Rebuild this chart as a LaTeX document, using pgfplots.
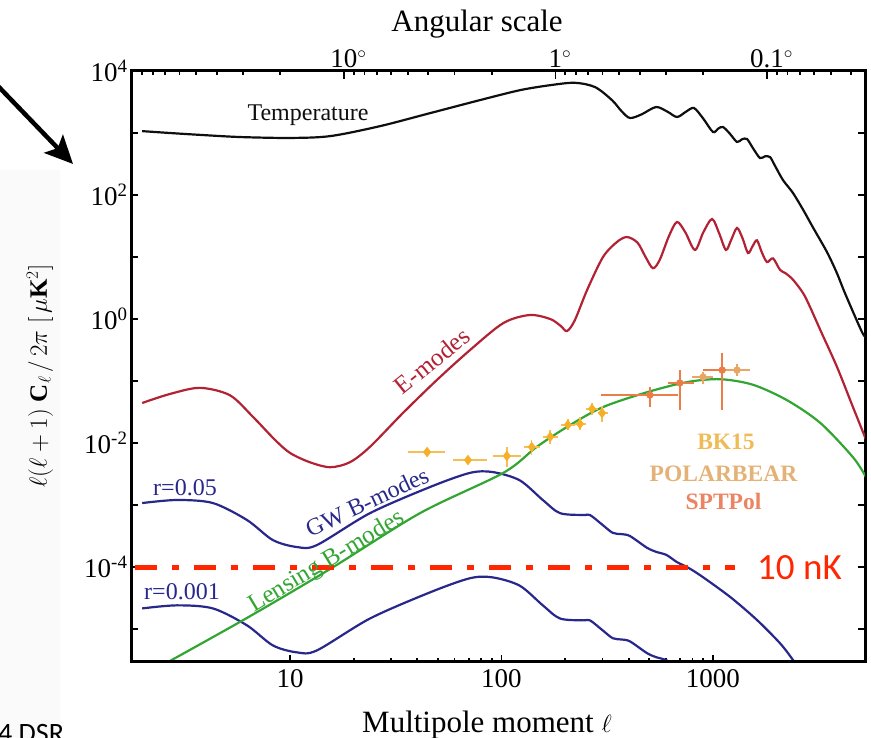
\documentclass[border=0pt]{standalone}
\usepackage{pgfplots}
\pgfplotsset{compat=1.18}
\usepackage{fontspec}
\setmainfont{Liberation Serif}
\newfontfamily\calibri{Carlito}
\usetikzlibrary{arrows.meta}
\definecolor{tempc}{RGB}{15,15,15}
\definecolor{ered}{RGB}{178,34,52}
\definecolor{gwblue}{RGB}{40,40,140}
\definecolor{lgreen}{RGB}{50,165,50}
\definecolor{nkred}{RGB}{255,38,0}
\definecolor{bkc}{RGB}{245,175,40}
\definecolor{pbc}{RGB}{232,165,100}
\definecolor{sptc}{RGB}{235,125,70}
\definecolor{bktxt}{RGB}{238,188,85}
\definecolor{pbtxt}{RGB}{228,178,118}
\definecolor{spttxt}{RGB}{235,132,98}

\pgfplotstableread{
l d lm lp dm dp
44.5 0.00716 8.4 9.6 0.0008 0.0009
69.4 0.00532 10.5 15.7 0.0006 0.0007
106 0.00617 15 17 0.00207 0.00243
139 0.0086 11 13 0.0021 0.0026
170 0.0126 13 15 0.0028 0.0034
206 0.0196 14 16 0.0036 0.0044
235 0.0204 13 15 0.0044 0.0056
268 0.0355 16 17 0.0075 0.0085
299 0.0305 14 21 0.0085 0.0095
}\bkdata
\pgfplotstableread{
l d lm lp dm dp
503 0.0594 206 180 0.0214 0.0206
697 0.093 87 113 0.059 0.058
1105 0.150 205 195 0.116 0.133
}\sptdata
\pgfplotstableread{
l d lm lp dm dp
897 0.116 97 103 0.026 0.024
1299 0.150 149 201 0.03 0.04
}\pbdata

\begin{document}
\begin{tikzpicture}[x=1pt,y=1pt]
\useasboundingbox (0,0) rectangle (871,738);
\fill[gray!4] (0,0) rectangle (60,568);
\draw[line width=4.5pt, -{Stealth[length=28pt, width=26pt, inset=6pt]}] (-4,654) -- (73,574);
\node[anchor=base west, font=\calibri\fontsize{28}{28}\selectfont, inner sep=0] at (-2,-5) {4 DSR};

\begin{axis}[
  at={(131pt,76pt)}, anchor=south west,
  scale only axis, width=734pt, height=591pt,
  xmode=log, ymode=log,
  xmin=1.771, xmax=5233, ymin=2.94e-6, ymax=1e4,
  xtick={10,100,1000}, xticklabels={10,100,1000},
  xtick pos=left,
  ytick={1e-5,1e-4,1e-3,1e-2,1e-1,1,1e1,1e2,1e3,1e4},
  yticklabels={,10\textsuperscript{-4},,10\textsuperscript{-2},,10\textsuperscript{0},,10\textsuperscript{2},,10\textsuperscript{4}},
  yminorticks=false,
  axis line style={line width=3pt},
  tick style={line width=1.8pt, black},
  major tick length=7pt, minor tick length=4pt,
  tick label style={font=\fontsize{27}{27}\selectfont},
  xticklabel style={yshift=-4pt},
  xlabel={Multipole moment $\ell$},
  xlabel style={font=\fontsize{31}{31}\selectfont, at={(axis description cs:0.485,0)}, anchor=base, yshift=-71pt},
  ylabel={$\ell(\ell+1)\;\mathbf{C}_{\ell}\,/\,2\pi\;[\,\mu\mathbf{K}^{2}]$},
  ylabel style={font=\fontsize{25}{25}\selectfont, at={(axis description cs:-0.124,0.484)}, anchor=center},
  every axis plot/.append style={line width=2.2pt},
]
% Temperature
\addplot[tempc, smooth] coordinates {
(2,1072) (2.7,1000) (3.75,933) (5.8,861) (10,832) (15.5,891) (26.6,1288) (45.9,2089) (79,3388) (122,4898) (169,5888) (222,6457) (277,5495) (333,3388) (370,2239) (405,1746) (460,2000) (538,2624) (610,2200) (676,1811) (745,2200) (813,2529) (900,1700) (1000,1038) (1060,1180) (1115,1250) (1200,980) (1299,716) (1370,790) (1448,800) (1550,560) (1668,395) (1760,420) (1860,410) (1960,300) (2143,174) (2388,108) (2670,57.5) (2970,30) (3460,12.0) (3855,5.5) (4210,2.6) (5060,0.62) (5300,0.51)
};
% E-modes
\addplot[ered, smooth] coordinates {
(2,0.0442) (2.7,0.0617) (3.75,0.0776) (5.2,0.0589) (6.69,0.0263) (8.5,0.0112) (10,0.00692) (12.4,0.0049) (15.5,0.00407) (19.2,0.0049) (23.9,0.0087) (34.2,0.0305) (49.5,0.104) (71,0.316) (102,0.86) (136,1.16) (170,1.0) (190,0.78) (204,0.64) (222,0.95) (254,2.94) (302,10) (351,17.4) (392,21) (440,17) (480,10) (520,6.6) (560,9) (620,22) (676,36.7) (740,25) (822,13.0) (900,25) (990,41) (1070,24) (1151,13.0) (1220,19) (1299,29.4) (1380,20) (1464,11.6) (1540,15) (1614,18.6) (1700,12) (1800,8.3) (1922,9.5) (2075,6.2) (2200,5.5) (2390,4.3) (2670,2.6) (2880,1.55) (3220,0.66) (3855,0.17) (4590,0.038) (5300,0.0112)
};
% GW B-modes r=0.05
\addplot[gwblue, smooth] coordinates {
(2,0.001076) (2.92,0.001205) (4.32,0.001076) (6.26,0.000573) (8.3,0.000272) (10.8,0.00021) (13.4,0.000226) (23.9,0.00074) (45.9,0.00195) (71,0.0033) (91,0.0034) (122,0.0025) (157,0.0012) (189,0.00074) (243,0.00069) (262,0.00069) (300,0.00048) (336,0.000355) (370,0.000339) (405,0.000316) (488,0.000204) (543,0.000174) (600,0.000158) (676,0.00012) (753,0.0001) (868,7.41e-5) (1203,3.31e-5) (1614,1.40e-5) (2075,5.89e-6) (2390,3.16e-6) (2600,2.0e-6)
};
% GW B-modes r=0.001
\addplot[gwblue, smooth] coordinates {
(2,2.15e-5) (2.92,2.41e-5) (4.32,2.15e-5) (6.26,1.146e-5) (8.3,5.44e-6) (10.8,4.2e-6) (13.4,4.52e-6) (23.9,1.48e-5) (45.9,3.9e-5) (71,6.6e-5) (91,6.8e-5) (122,5.0e-5) (157,2.4e-5) (189,1.48e-5) (243,1.38e-5) (262,1.38e-5) (300,9.6e-6) (336,7.1e-6) (370,6.78e-6) (405,6.32e-6) (488,4.08e-6) (543,3.48e-6) (600,3.16e-6) (676,2.4e-6) (753,2.0e-6)
};
% Lensing B-modes
\addplot[lgreen, smooth] coordinates {
(2.5,2.63e-6) (6.26,1.51e-5) (15.5,9.33e-5) (41.2,0.00074) (102,0.0033) (147,0.0087) (211,0.0195) (302,0.038) (488,0.066) (753,0.096) (1079,0.107) (1545,0.087) (2240,0.049) (3220,0.021) (4590,0.0059) (5300,0.0028)
};
% 10 nK line
\addplot[nkred, line width=5pt, dash pattern=on 22pt off 15pt on 7pt off 15pt] coordinates {(1.85,1e-4) (1271,1e-4)};
% data
\addplot[sptc, only marks, mark=*, mark size=2.5pt,
  error bars/.cd, x dir=both, y dir=both, x explicit, y explicit,
  error bar style={line width=1.5pt, sptc}, error mark=none]
  table[x=l, y=d, x error minus=lm, x error plus=lp, y error minus=dm, y error plus=dp] {\sptdata};
\addplot[pbc, only marks, mark=*, mark size=2.5pt,
  error bars/.cd, x dir=both, y dir=both, x explicit, y explicit,
  error bar style={line width=1.5pt, pbc}, error mark=none]
  table[x=l, y=d, x error minus=lm, x error plus=lp, y error minus=dm, y error plus=dp] {\pbdata};
\addplot[bkc, only marks, mark=diamond*, mark size=3.5pt,
  error bars/.cd, x dir=both, y dir=both, x explicit, y explicit,
  error bar style={line width=1.5pt, bkc!80!white}, error mark=none]
  table[x=l, y=d, x error minus=lm, x error plus=lp, y error minus=dm, y error plus=dp] {\bkdata};
\end{axis}

\begin{axis}[
  at={(131pt,76pt)}, anchor=south west,
  scale only axis, width=734pt, height=591pt,
  xmode=log, xmin=1.771, xmax=5233, ymin=0, ymax=1,
  hide y axis,
  xtick={18,180,1800},
  xticklabels={10\rlap{$^{\circ}$},1\rlap{$^{\circ}$},0.1\rlap{$^{\circ}$}},
  minor xtick={1.8,2,2.25,2.571,3,3.6,4.5,6,9,20,22.5,25.71,30,36,45,60,90,200,225,257.1,300,360,450,600,900,2000,2250,2571,3000,3600,4500},
  xtick pos=right, xticklabel pos=right,
  axis line style={line width=3pt},
  tick style={line width=1.8pt, black},
  major tick length=8pt, minor tick length=4pt,
  tick label style={font=\fontsize{27}{27}\selectfont},
  xlabel={Angular scale},
  xlabel style={font=\fontsize{31}{31}\selectfont, at={(axis description cs:0.4715,1)}, anchor=base, yshift=39pt},
]
\end{axis}

% curve labels
\node[font=\fontsize{24}{24}\selectfont, text=tempc] at (308,623) {Temperature};
\node[font=\fontsize{25}{25}\selectfont, text=ered, rotate=39] at (432,377) {E-modes};
\node[font=\fontsize{24}{24}\selectfont, text=gwblue, rotate=25] at (367,236) {GW B-modes};
\node[font=\fontsize{25}{25}\selectfont, text=lgreen, rotate=31] at (327,176) {Lensing B-modes};
\node[font=\fontsize{24}{24}\selectfont, text=gwblue] at (185,250) {r=0.05};
\node[font=\fontsize{24}{24}\selectfont, text=gwblue] at (182,146) {r=0.001};
\node[font=\bfseries\fontsize{23.5}{23.5}\selectfont, text=bktxt] at (726,296) {BK15};
\node[font=\bfseries\fontsize{23.5}{23.5}\selectfont, text=pbtxt] at (723.5,264.5) {POLARBEAR};
\node[font=\bfseries\fontsize{23.5}{23.5}\selectfont, text=spttxt] at (723.5,236.5) {SPTPol};
\node[anchor=base west, font=\calibri\fontsize{37}{37}\selectfont, text=nkred, inner sep=0] at (757,158) {10 nK};
\end{tikzpicture}
\end{document}
